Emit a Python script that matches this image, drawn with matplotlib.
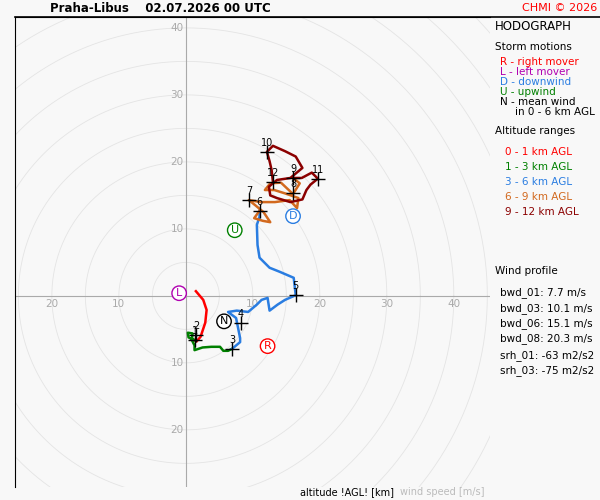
# -*- coding: utf-8 -*-
import numpy as np
import matplotlib.pyplot as plt

# hodograph segments (u, v) in m/s
seg_01 = [(1.5, 0.7), (2.6, -0.6), (3.1, -2.1), (2.9, -4.0), (2.2, -6.1), (1.6, -6.8), (1.3, -6.6)]
seg_13 = [(1.3, -6.6), (0.4, -6.2), (0.3, -5.5), (1.0, -5.6), (0.9, -6.6), (1.3, -7.4), (1.3, -8.1),
          (2.5, -7.7), (3.8, -7.6), (5.1, -7.6), (5.6, -8.2), (6.3, -8.2), (6.9, -7.9)]
seg_36 = [(6.9, -7.9), (8.1, -6.9), (8.1, -6.3), (7.8, -4.8), (7.5, -3.3), (6.3, -2.4), (7.6, -2.2),
          (9.3, -2.4), (10.6, -1.3), (11.3, -0.6), (12.2, -0.3), (12.5, -2.2), (13.7, -1.3),
          (14.8, -0.6), (16.4, 0.1), (16.1, 2.7), (14.0, 3.6), (12.5, 4.2), (11.0, 5.7),
          (10.7, 7.6), (10.6, 10.6), (11.0, 11.8), (11.0, 12.7)]
seg_69 = [(11.0, 12.7), (10.2, 11.6), (11.5, 11.2), (12.6, 11.0), (11.6, 12.5), (10.4, 13.5),
          (9.4, 14.3), (11.2, 14.0), (13.3, 14.0), (15.5, 14.3), (16.6, 13.1), (16.8, 14.6),
          (14.8, 15.3), (13.2, 15.8), (11.8, 15.8), (12.6, 16.8), (14.2, 16.9), (16.0, 15.2),
          (17.0, 16.8), (16.0, 17.6)]
seg_912 = [(16.0, 17.6), (17.3, 17.6), (18.8, 18.4), (19.7, 17.5), (18.6, 16.6), (18.0, 15.8),
           (17.4, 14.4), (15.6, 14.0), (13.6, 14.6), (12.6, 15.0), (12.4, 16.3), (13.6, 17.3),
           (15.6, 17.6), (17.4, 19.1), (16.4, 20.8), (14.8, 21.6), (13.0, 22.4), (12.1, 21.5),
           (12.5, 20.1), (12.8, 18.8), (13.0, 17.0)]
markers = {1: (1.3, -6.6), 2: (1.5, -5.8), 3: (6.9, -7.9), 4: (8.2, -4.1), 5: (16.4, 0.1),
           6: (11.0, 12.7), 7: (9.4, 14.3), 8: (16.0, 15.3), 9: (16.0, 17.6), 10: (12.1, 21.5),
           11: (19.7, 17.5), 12: (13.0, 17.0)}
storm = {'R': ((12.2, -7.5), 'red'), 'L': ((-1.0, 0.4), '#b000b0'), 'D': ((16.0, 11.9), '#2a7de1'),
         'U': ((7.3, 9.8), 'green'), 'N': ((5.7, -3.8), 'black')}

fig = plt.figure(figsize=(6, 5), dpi=100)
fig.patch.set_facecolor('#f8f8f8')
ax = fig.add_axes([15/600, 13/500, 475/600, 470/500])
ax.set_facecolor('#f8f8f8')
ax.set_xlim(-25.5, 45.4)
ax.set_ylim(-28.5, 41.6)
ax.set_aspect('equal', adjustable='box')
ax.set_xticks([]); ax.set_yticks([])
for s in ['right', 'bottom']:
    ax.spines[s].set_visible(False)

t = np.linspace(0, 2*np.pi, 400)
for r in range(5, 75, 5):
    ax.plot(r*np.cos(t), r*np.sin(t), color='#e4e4e4', lw=0.6, zorder=1)
ax.axhline(0, color='#aaaaaa', lw=0.8, zorder=1)
ax.axvline(0, color='#aaaaaa', lw=0.8, zorder=1)
for x, y in [(10, 0), (20, 0), (30, 0), (40, 0), (-10, 0), (-20, 0),
             (0, 10), (0, 20), (0, 30), (0, 40), (0, -10), (0, -20)]:
    ax.text(x - (1.3 if x == 0 else 0), y - (1.2 if y == 0 else 0), str(abs(x + y)), color='#aaaaaa',
            fontsize=7.5, ha='center', va='center', zorder=2)

for seg, c in [(seg_01, 'red'), (seg_13, 'green'), (seg_36, '#2a7de1'),
               (seg_69, '#d2691e'), (seg_912, '#8b0000')]:
    seg = np.array(seg)
    ax.plot(seg[:, 0], seg[:, 1], color=c, lw=1.8, zorder=3)
for k, (x, y) in markers.items():
    ax.plot(x, y, '+', color='black', ms=10, mew=1, zorder=4)
    ax.text(x, y + 0.6, str(k), fontsize=7, ha='center', va='bottom', zorder=5)
for k, ((x, y), c) in storm.items():
    ax.text(x, y, k, color=c, fontsize=8, ha='center', va='center', zorder=5,
            bbox=dict(boxstyle='circle,pad=0.2', fc='white', ec=c, lw=1))

fig.add_artist(plt.Line2D([15/600, 1], [483/500, 483/500], color='black', lw=1.2))
fig.text(50/600, 1 - 8/500, 'Praha-Libus    02.07.2026 00 UTC', fontsize=8.5, weight='bold', va='center')
fig.text(597/600, 1 - 8/500, 'CHMI © 2026', fontsize=8, color='red', ha='right', va='center')
fig.text(495/600, 1 - 27/500, 'HODOGRAPH', fontsize=8.5, va='center')
fig.text(495/600, 1 - 47/500, 'Storm motions', fontsize=7.5, va='center')
for i, (s, c) in enumerate([('R - right mover', 'red'), ('L - left mover', '#b000b0'),
                            ('D - downwind', '#2a7de1'), ('U - upwind', 'green'),
                            ('N - mean wind', 'black')]):
    fig.text(500/600, 1 - (62 + 10*i)/500, s, fontsize=7.5, color=c, va='center')
fig.text(515/600, 1 - 112/500, 'in 0 - 6 km AGL', fontsize=7.5, va='center')
fig.text(495/600, 1 - 131/500, 'Altitude ranges', fontsize=7.5, va='center')
for i, (s, c) in enumerate([('0 - 1 km AGL', 'red'), ('1 - 3 km AGL', 'green'),
                            ('3 - 6 km AGL', '#2a7de1'), ('6 - 9 km AGL', '#d2691e'),
                            ('9 - 12 km AGL', '#8b0000')]):
    fig.text(505/600, 1 - (152 + 15*i)/500, s, fontsize=7.5, color=c, va='center')
fig.text(495/600, 1 - 271/500, 'Wind profile', fontsize=7.5, va='center')
for s, y in [('bwd_01: 7.7 m/s', 293), ('bwd_03: 10.1 m/s', 309), ('bwd_06: 15.1 m/s', 324),
             ('bwd_08: 20.3 m/s', 339), ('srh_01: -63 m2/s2', 356), ('srh_03: -75 m2/s2', 371)]:
    fig.text(500/600, 1 - y/500, s, fontsize=7.5, va='center')
fig.text(300/600, 1 - 492/500, 'altitude !AGL! [km]', fontsize=7, va='center')
fig.text(400/600, 1 - 492/500, 'wind speed [m/s]', fontsize=7, color='#bbbbbb', va='center')

plt.savefig('out.png', dpi=100, facecolor=fig.get_facecolor())
